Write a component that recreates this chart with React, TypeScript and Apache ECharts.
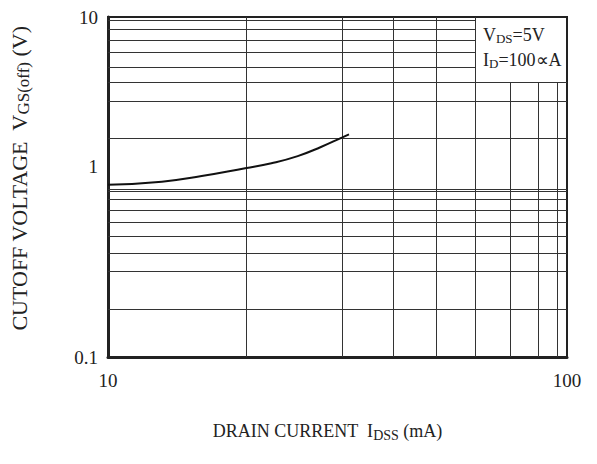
import React, { useEffect, useRef } from "react";
import * as echarts from "echarts";

// Curve: drain current (mA) vs cutoff voltage (V)
const currentMA = [10, 13.1, 16, 19.9, 22.7, 25.9, 29.1, 32.4, 33.5];
const cutoffV = [1.03, 1.075, 1.16, 1.29, 1.38, 1.52, 1.72, 1.96, 2.04];

// Axis ranges
const xRange = [10, 100];
const yRange = [0.1, 10];

// Grid lines as drawn on the datasheet (data units)
const xGridFull = [20, 32.4, 41.9, 51.9, 63.1];
const xGridLower = [75.2, 86.4, 95.3];
const yGridFull = [4.11, 3.18, 1.94, 0.97, 0.943, 0.846, 0.732, 0.617, 0.506, 0.411, 0.318, 0.193];
const yGridLeft = [9.51, 8.46, 7.32, 6.17, 5.06];
const boxCornerX = 63.1;
const boxCornerY = 4.11;

const FONT = "Liberation Serif";

export default function App() {
  const ref = useRef<HTMLDivElement>(null);
  useEffect(() => {
    document.body.style.margin = "0";
    const chart = echarts.init(ref.current!, null, { renderer: "svg" });
    const gridStyle = { color: "#333", width: 1, type: "solid" as const };
    const mlData: any[] = [];
    xGridFull.forEach((v) => mlData.push({ xAxis: v }));
    yGridFull.forEach((v) => mlData.push({ yAxis: v }));
    xGridLower.forEach((v) => mlData.push([{ coord: [v, yRange[0]] }, { coord: [v, boxCornerY] }]));
    yGridLeft.forEach((v) => mlData.push([{ coord: [xRange[0], v] }, { coord: [boxCornerX, v] }]));

    chart.setOption({
      animation: false,
      grid: {
        left: 106,
        right: 30,
        top: 17,
        bottom: 107,
        show: true,
        borderColor: "#222",
        borderWidth: 2,
        backgroundColor: "#fff",
      },
      xAxis: {
        type: "log",
        logBase: 10,
        min: xRange[0],
        max: xRange[1],
        axisLine: { show: true, lineStyle: { color: "#222", width: 3 } },
        axisTick: { show: false },
        splitLine: { show: false },
        axisLabel: { fontFamily: FONT, fontSize: 19, color: "#222", margin: 14 },
        name: "DRAIN CURRENT  I{sub|DSS} (mA)",
        nameLocation: "middle",
        nameGap: 63,
        nameTextStyle: {
          fontFamily: FONT,
          fontSize: 18,
          color: "#222",
          padding: [0, 20, 0, 0],
          rich: {
            sub: { fontFamily: FONT, fontSize: 14, color: "#222", padding: [8, 0, 0, 0] },
          },
        },
      },
      yAxis: {
        type: "log",
        logBase: 10,
        min: yRange[0],
        max: yRange[1],
        axisLine: { show: true, lineStyle: { color: "#222", width: 3 } },
        axisTick: { show: false },
        splitLine: { show: false },
        axisLabel: {
          fontFamily: FONT,
          fontSize: 19,
          color: "#222",
          margin: 10,
          formatter: (v: number) => (v === 1 ? "{up|1}" : String(v)),
          rich: { up: { fontFamily: FONT, fontSize: 19, color: "#222", padding: [0, 0, 42, 0] } },
        },
        name: "CUTOFF VOLTAGE  V{sub|GS(off)} (V)",
        nameLocation: "middle",
        nameRotate: 90,
        nameGap: 76,
        nameTextStyle: {
          fontFamily: FONT,
          fontSize: 22,
          color: "#222",
          padding: [0, 0, 0, 17],
          rich: {
            sub: { fontFamily: FONT, fontSize: 17, color: "#222", padding: [9, 0, 0, 0] },
          },
        },
      },
      graphic: [
        {
          type: "text",
          left: 483,
          top: 26,
          z: 100,
          style: {
            text: "V{s|DS}=5V",
            fontFamily: FONT,
            fontSize: 18,
            fill: "#222",
            rich: { s: { fontFamily: FONT, fontSize: 13, fill: "#222", padding: [7, 0, 0, 0] } },
          },
        },
        {
          type: "text",
          left: 483,
          top: 51,
          z: 100,
          style: {
            text: "I{s|D}=100∝A",
            fontFamily: FONT,
            fontSize: 18,
            fill: "#222",
            rich: { s: { fontFamily: FONT, fontSize: 13, fill: "#222", padding: [7, 0, 0, 0] } },
          },
        },
      ],
      series: [
        {
          type: "line",
          data: currentMA.map((x, i) => [x, cutoffV[i]]),
          smooth: 0.5,
          showSymbol: false,
          lineStyle: { color: "#111", width: 2 },
          z: 5,
          markLine: {
            silent: true,
            symbol: ["none", "none"],
            label: { show: false },
            lineStyle: gridStyle,
            z: 2,
            data: mlData,
          },
        },
      ],
    });
    return () => chart.dispose();
  }, []);
  return <div ref={ref} style={{ width: 597, height: 464 }} />;
}
